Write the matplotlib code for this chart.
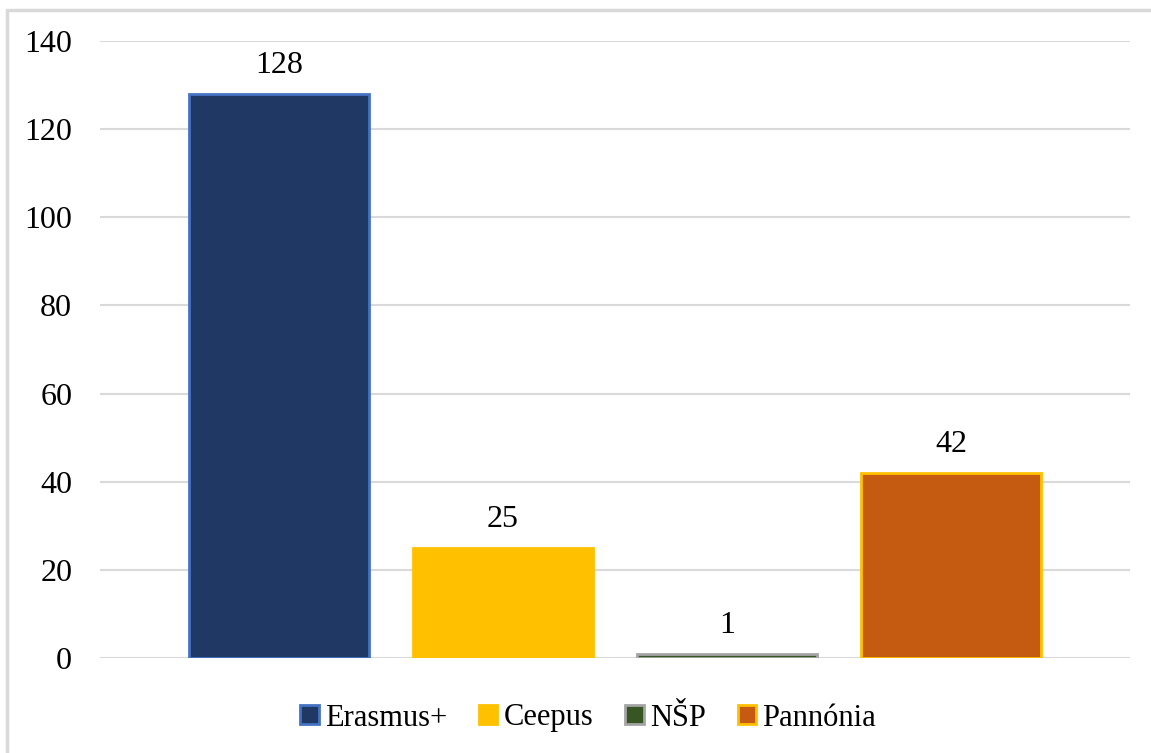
import matplotlib.pyplot as plt
from matplotlib.patches import Rectangle

# Data
programs = ["Erasmus+", "Ceepus", "NŠP", "Pannónia"]
counts = [128, 25, 1, 42]
fill_colors = ["#203864", "#FFC000", "#375623", "#C55A11"]
edge_colors = ["#4472C4", "#FFC000", "#A5A5A5", "#FFC000"]
y_ticks = [0, 20, 40, 60, 80, 100, 120, 140]

plt.rcParams["font.family"] = ["Liberation Serif", "DejaVu Serif"]

fig = plt.figure(figsize=(11.51, 7.53), dpi=100)

# Light gray frame around the chart (cut at right and bottom like the original)
fig.patches.append(Rectangle((7 / 1151, -0.05), 1.2, (753 - 10) / 753 + 0.05,
                             transform=fig.transFigure, fill=False,
                             edgecolor="#D9D9D9", linewidth=2.5))

ax = fig.add_axes([100 / 1151, 95 / 753, 1030 / 1151, (658 - 41) / 753])

x = range(len(programs))
bars = ax.bar(x, counts, width=0.80, color=fill_colors, edgecolor=edge_colors,
              linewidth=2, zorder=3, label=programs)

for xi, v in zip(x, counts):
    ax.annotate(str(v), (xi, v), xytext=(0, 10), textcoords="offset points",
                ha="center", va="bottom", fontsize=23)

ax.set_ylim(0, 140)
ax.set_xlim(-0.799, 3.799)
ax.set_yticks(y_ticks)
ax.tick_params(axis="y", length=0, pad=20, labelsize=23)
ax.set_xticks([])
ax.grid(axis="y", color="#D9D9D9", linewidth=1.5, zorder=0)
for s in ax.spines.values():
    s.set_visible(False)

handles = [Rectangle((0, 0), 1, 1, facecolor=f, edgecolor=e, linewidth=2)
           for f, e in zip(fill_colors, edge_colors)]
fig.legend(handles, programs, loc="center", bbox_to_anchor=(588 / 1151, 1 - 718 / 753),
           ncol=4, frameon=False, fontsize=22, handlelength=0.6, handleheight=0.6,
           handletextpad=0.2, columnspacing=1.05)

fig.savefig("out.png", dpi=100)
